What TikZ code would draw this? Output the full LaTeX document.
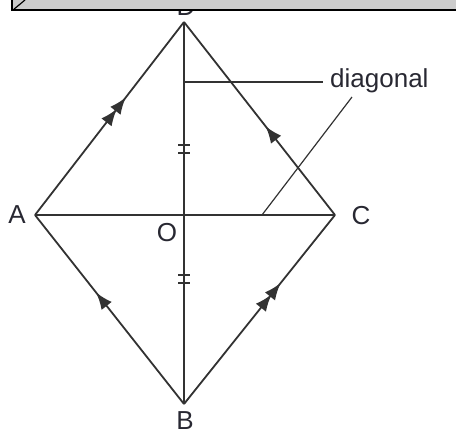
\documentclass[tikz,border=0pt]{standalone}
\usepackage{fontspec}
\setmainfont{Liberation Sans}
\usetikzlibrary{calc,arrows.meta,decorations.markings}
\definecolor{LineGray}{RGB}{50,50,50}
\definecolor{BoxGray}{RGB}{204,204,204}
\definecolor{TextDark}{RGB}{40,40,50}
\tikzset{
  side/.style={draw=LineGray,line width=1.8pt},
  lead/.style={draw=LineGray,line width=1.2pt},
  lab/.style={font=\fontsize{26}{30}\selectfont,text=TextDark,inner sep=0pt},
  onearrow/.style={postaction={decorate},decoration={markings,
    mark=at position #1 with {\arrow{Latex[length=17pt,width=13pt]}}}},
  twoarrow/.style={postaction={decorate},decoration={markings,
    mark=at position #1 with {\arrow{Latex[length=17pt,width=13pt]}},
    mark=at position #1+0.06 with {\arrow{Latex[length=17pt,width=13pt]}}}},
}

\begin{document}
\begin{tikzpicture}[x=1pt,y=-1pt]
\useasboundingbox (0,0) rectangle (456,434);
\coordinate (D) at (184,22);
\coordinate (A) at (35,215);
\coordinate (C) at (335,215);
\coordinate (B) at (184,404);
\coordinate (O) at (184,215);
\coordinate (t1) at (184,149);
\coordinate (t2) at (184,279);
\coordinate (ha) at (184,82);
\coordinate (hb) at (323,82);
\coordinate (sa) at (262,215);
\coordinate (sb) at (352,97);
% sides of the kite
\draw[side,twoarrow=0.55] (A)--(D);
\draw[side,onearrow=0.46] (C)--(D);
\draw[side,onearrow=0.59] (B)--(A);
\draw[side,twoarrow=0.58] (B)--(C);
% diagonals
\draw[side] (D)--(B);
\draw[side] (A)--(C);
% equal marks
\draw[side,line width=1.2pt] ($(t1)+(-6,-4)$)--($(t1)+(6,-4)$) ($(t1)+(-6,4)$)--($(t1)+(6,4)$);
\draw[side,line width=1.2pt] ($(t2)+(-6,-4)$)--($(t2)+(6,-4)$) ($(t2)+(-6,4)$)--($(t2)+(6,4)$);
% leaders
\draw[lead] (ha)--(hb);
\draw[lead] (sa)--(sb);
\node[lab,anchor=west] (diag) at (330,81) {diagonal};
\node[lab] (lA) at (17,215) {A};
\node[lab] (lC) at (361,216) {C};
\node[lab] (lO) at (167,233) {O};
\node[lab] (lB) at (185,421) {B};
\node[lab] (lD) at (186,7) {D};
% cropped box on top
\fill[BoxGray] (12,-5) rectangle (460,10);
\draw[black,line width=1.6pt] (12,-5)--(12,10)--(460,10);
\draw[black,line width=1.2pt] (13,10)--(25,0);
\end{tikzpicture}
\end{document}
